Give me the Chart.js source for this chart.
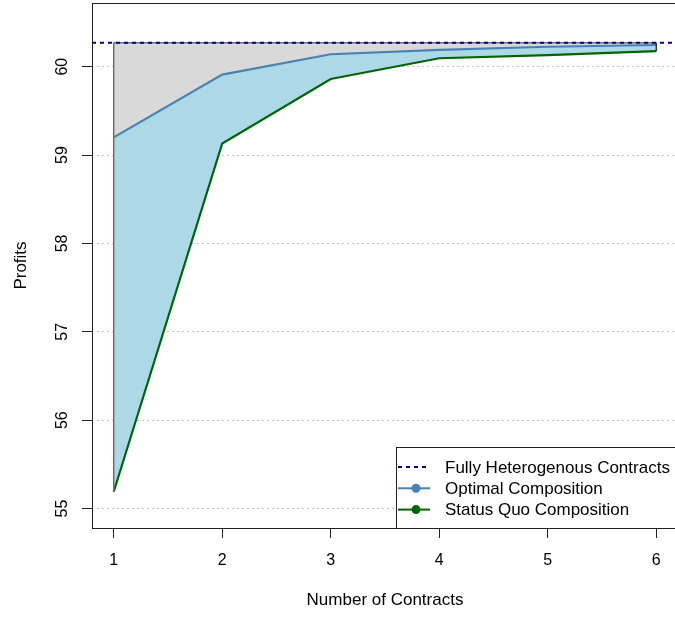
<!DOCTYPE html>
<html>
<head>
<meta charset="utf-8">
<script src="https://cdn.jsdelivr.net/npm/chart.js@4/dist/chart.umd.min.js"></script>
<style>
  html, body { margin: 0; padding: 0; background: #fff; overflow: hidden; }
  canvas { display: block; }
</style>
</head>
<body>
<canvas id="profitChart" width="700" height="617"></canvas>
<script>
// Data
const contracts = [1, 2, 3, 4, 5, 6];
const optimalProfits = [59.20, 59.91, 60.14, 60.19, 60.225, 60.245];
const statusQuoProfits = [55.19, 59.13, 59.86, 60.095, 60.13, 60.175];
const fullyHeterogenous = 60.27;

const xTicks = [1, 2, 3, 4, 5, 6];
const yTicks = [55, 56, 57, 58, 59, 60];

const seriesNames = ['Fully Heterogenous Contracts', 'Optimal Composition', 'Status Quo Composition'];
const hetColor = '#00008b';
const optimalColor = '#4682b4';
const statusQuoColor = '#006400';

const FONT = 'Liberation Sans, Arial, Helvetica, sans-serif';

// Extra drawing: plot box, the dotted reference line, polygon edges, legend
const extras = {
    id: 'extras',
    afterDatasetsDraw(chart) {
        const ctx = chart.ctx;
        const area = chart.chartArea;
        const xs = chart.scales.x;
        const ys = chart.scales.y;
        const x1 = xs.getPixelForValue(contracts[0]);
        const xn = xs.getPixelForValue(contracts[contracts.length - 1]);
        const yHet = ys.getPixelForValue(fullyHeterogenous);

        ctx.save();
        // polygon side edges
        ctx.strokeStyle = '#6e6e6e';
        ctx.lineWidth = 1.5;
        ctx.beginPath();
        ctx.moveTo(x1, yHet);
        ctx.lineTo(x1, ys.getPixelForValue(statusQuoProfits[0]));
        ctx.stroke();
        ctx.strokeStyle = '#333';
        ctx.beginPath();
        ctx.moveTo(xn, yHet);
        ctx.lineTo(xn, ys.getPixelForValue(statusQuoProfits[statusQuoProfits.length - 1]));
        ctx.stroke();

        // dotted horizontal line across the plot
        ctx.strokeStyle = hetColor;
        ctx.lineWidth = 2;
        ctx.setLineDash([4, 4]);
        ctx.beginPath();
        ctx.moveTo(area.left, yHet);
        ctx.lineTo(area.right, yHet);
        ctx.stroke();
        ctx.setLineDash([]);

        // plot box
        ctx.strokeStyle = '#222';
        ctx.lineWidth = 1;
        ctx.strokeRect(Math.round(area.left) + 0.5, Math.round(area.top) + 0.5,
            Math.round(area.right - area.left), Math.round(area.bottom - area.top));
        ctx.restore();
    },
    afterDraw(chart) {
        const ctx = chart.ctx;
        const area = chart.chartArea;
        const boxW = 282, boxH = 81, rowH = 21.3;
        const left = area.right - boxW;
        const top = area.bottom - boxH;
        ctx.save();
        ctx.fillStyle = '#fff';
        ctx.fillRect(left, top, boxW, boxH);
        ctx.strokeStyle = '#222';
        ctx.lineWidth = 1;
        ctx.strokeRect(Math.round(left) + 0.5, Math.round(top) + 0.5, boxW, boxH);

        const colors = [hetColor, optimalColor, statusQuoColor];
        ctx.font = '17px ' + FONT;
        ctx.textBaseline = 'middle';
        ctx.textAlign = 'left';
        seriesNames.forEach((name, i) => {
            const y = top + 20 + i * rowH;
            ctx.strokeStyle = colors[i];
            ctx.lineWidth = 2;
            ctx.setLineDash(i === 0 ? [4, 4] : []);
            ctx.beginPath();
            ctx.moveTo(left + 2, y);
            ctx.lineTo(left + 34, y);
            ctx.stroke();
            ctx.setLineDash([]);
            if (i > 0) {
                ctx.fillStyle = colors[i];
                ctx.beginPath();
                ctx.arc(left + 20, y, 4.5, 0, Math.PI * 2);
                ctx.fill();
            }
            ctx.fillStyle = '#000';
            ctx.fillText(name, left + 49, y + 1);
        });
        ctx.restore();
    }
};

const ctx = document.getElementById('profitChart').getContext('2d');
const profitChart = new Chart(ctx, {
    type: 'line',
    data: {
        datasets: [{
            label: seriesNames[0],
            data: contracts.map(c => ({ x: c, y: fullyHeterogenous })),
            borderColor: '#6e6e6e',
            borderWidth: 1.5,
            backgroundColor: '#d9d9d9',
            fill: '+1',
            pointRadius: 0,
            tension: 0
        }, {
            label: seriesNames[1],
            data: contracts.map((c, i) => ({ x: c, y: optimalProfits[i] })),
            borderColor: optimalColor,
            borderWidth: 2.2,
            backgroundColor: '#add8e6',
            fill: '+1',
            pointRadius: 0,
            tension: 0
        }, {
            label: seriesNames[2],
            data: contracts.map((c, i) => ({ x: c, y: statusQuoProfits[i] })),
            borderColor: statusQuoColor,
            borderWidth: 2.2,
            fill: false,
            pointRadius: 0,
            tension: 0
        }]
    },
    options: {
        responsive: false,
        animation: false,
        events: [],
        layout: { padding: { top: 3, right: 22, left: 0, bottom: 0 } },
        plugins: {
            legend: { display: false },
            tooltip: { enabled: false },
            filler: { propagate: false, drawTime: 'beforeDatasetsDraw' }
        },
        scales: {
            x: {
                type: 'linear',
                min: 0.8,
                max: 6.2,
                afterBuildTicks: s => { s.ticks = xTicks.map(v => ({ value: v })); },
                afterFit: s => { s.height = 89; s.paddingLeft = 0; s.paddingRight = 0; },
                grid: {
                    drawOnChartArea: false,
                    drawTicks: true,
                    tickLength: 10,
                    tickColor: '#222',
                    tickWidth: 1
                },
                border: { display: false },
                ticks: {
                    color: '#000',
                    font: { family: FONT, size: 16 },
                    padding: 13,
                    maxRotation: 0,
                    minRotation: 0,
                    callback: v => String(v)
                },
                title: {
                    display: true,
                    text: 'Number of Contracts',
                    color: '#000',
                    font: { family: FONT, size: 17 },
                    padding: { top: 0, bottom: 6 }
                }
            },
            y: {
                type: 'linear',
                min: 54.78,
                max: 60.72,
                afterBuildTicks: s => { s.ticks = yTicks.map(v => ({ value: v })); },
                afterFit: s => { s.width = 92; s.paddingTop = 0; s.paddingBottom = 0; },
                grid: {
                    drawOnChartArea: true,
                    drawTicks: true,
                    tickLength: 10,
                    tickColor: '#222',
                    tickWidth: 1,
                    tickBorderDash: [],
                    color: '#c4c4c4',
                    lineWidth: 1
                },
                border: { display: false, dash: [2, 3] },
                ticks: {
                    color: '#000',
                    font: { family: FONT, size: 16 },
                    padding: 11,
                    minRotation: 90,
                    maxRotation: 90,
                    crossAlign: 'center',
                    callback: v => String(v)
                },
                title: {
                    display: true,
                    text: 'Profits',
                    color: '#000',
                    font: { family: FONT, size: 17 },
                    padding: { top: 11, bottom: 0 }
                }
            }
        }
    },
    plugins: [extras]
});
</script>
</body>
</html>
